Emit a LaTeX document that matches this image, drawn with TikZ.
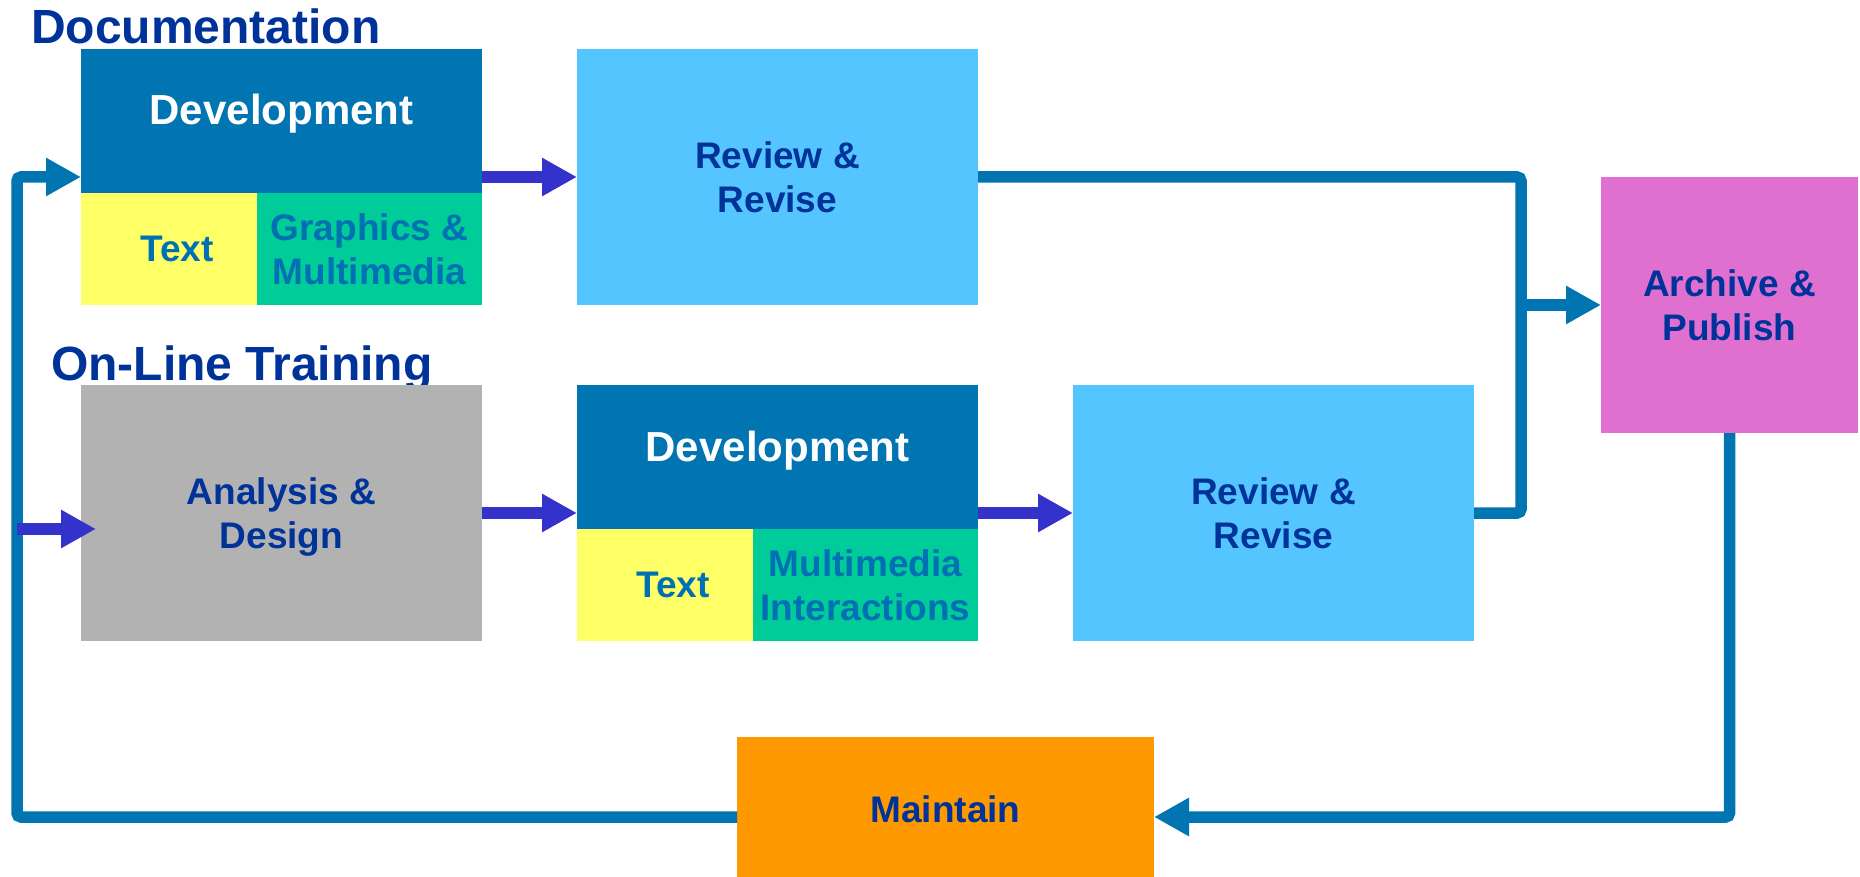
\documentclass[tikz,border=0pt]{standalone}
\usepackage{fontspec}
\setmainfont{Liberation Sans}
\usetikzlibrary{arrows.meta}
\definecolor{devblue}{RGB}{0,117,178}
\definecolor{lightblue}{RGB}{84,197,255}
\definecolor{boxyellow}{RGB}{255,255,102}
\definecolor{boxgreen}{RGB}{0,204,153}
\definecolor{boxgray}{RGB}{178,178,178}
\definecolor{boxmagenta}{RGB}{224,112,208}
\definecolor{boxorange}{RGB}{255,153,0}
\definecolor{navy}{RGB}{0,51,153}
\definecolor{midblue}{RGB}{0,112,180}
\definecolor{violet}{RGB}{51,51,204}
\begin{document}
\begin{tikzpicture}[x=1pt,y=-1pt,
  box/.style={rectangle, draw=none, inner sep=0pt, outer sep=0pt, anchor=north west,
    align=center, text=navy, font=\bfseries\fontsize{37}{44}\selectfont},
  devbox/.style={box, fill=devblue, text=white, font=\bfseries\fontsize{42}{48}\selectfont,
    minimum width=401pt, minimum height=144pt, text height=30pt, text depth=22pt},
  txtbox/.style={box, fill=boxyellow, text=midblue, minimum width=176pt, minimum height=112pt},
  grbox/.style={box, fill=boxgreen, text=midblue, minimum width=225pt, minimum height=112pt},
  bigbox/.style={box, minimum width=401pt, minimum height=256pt},
  title/.style={inner sep=0pt, anchor=base west, text=navy, font=\bfseries\fontsize{48}{52}\selectfont},
  tip/.style={-{Triangle[length=35pt,width=36pt]}},
  varrow/.style={draw=violet, line width=12pt, tip},
  loopline/.style={draw=devblue, line width=11.5pt, rounded corners=4pt}
]
\useasboundingbox (0,0) rectangle (1860,877);

% titles
\node[title] (tdoc) at (31,44) {Documentation};
\node[title] (tolt) at (51,380) {On-Line Training};

% documentation row
\node[devbox] (d1) at (81,49) {Development};
\node[txtbox] (t1) at (81,193) {\hspace*{16pt}Text};
\node[grbox] (g1) at (257,193) {Graphics \&\\Multimedia};
\node[bigbox, fill=lightblue] (r1) at (577,49) {Review \&\\Revise};

% archive
\node[box, fill=boxmagenta, minimum width=257pt, minimum height=256pt] (ar) at (1601,177) {Archive \&\\Publish};

% on-line training row
\node[bigbox, fill=boxgray] (a) at (81,385) {\rule{0pt}{35pt}Analysis \&\\Design};
\node[devbox] (d2) at (577,385) {Development};
\node[txtbox] (t2) at (577,529) {\hspace*{16pt}Text};
\node[grbox] (g2) at (753,529) {Multimedia\\Interactions};
\node[bigbox, fill=lightblue] (r2) at (1073,385) {Review \&\\Revise};

% maintain
\node[box, fill=boxorange, minimum width=417pt, minimum height=140pt] (m) at (737,737) {\rule{0pt}{32pt}Maintain};

% helper coordinates
\coordinate (jx) at (1521,0);
\coordinate (lx) at (17,0);
\coordinate (bot) at (0,817);
\coordinate (ein) at (96,529);

% violet arrows
\draw[varrow] (d1.east |- r1.center) -- (r1.west);
\draw[varrow] (a.east) -- (a.east -| d2.west);
\draw[varrow] (d2.east |- r2.center) -- (r2.west);

% merge to archive
\draw[loopline] (r1.east) -- (r1.east -| jx) -- (r2.east -| jx) -- (r2.east);
\draw[loopline, tip] (ar.west -| jx) -- (ar.west);

% archive to maintain
\draw[loopline, tip] (ar.south) |- (m.east |- bot);

% maintain back to documentation
\draw[loopline, tip] (m.west |- bot) -| (lx |- r1.center) -- (d1.west |- r1.center);

% entry into analysis
\draw[varrow] (lx |- ein) -- (ein);
\end{tikzpicture}
\end{document}
